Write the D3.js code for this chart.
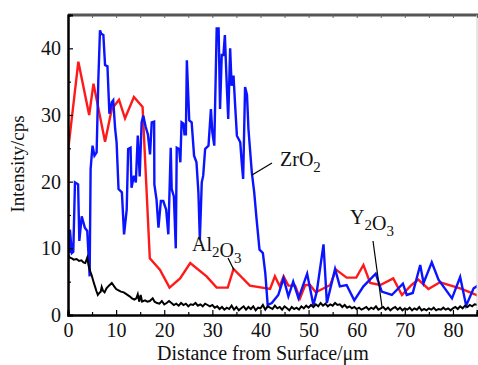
<!DOCTYPE html>
<html>
<head>
<meta charset="utf-8">
<script src="https://cdn.jsdelivr.net/npm/d3@7"></script>
<style>
  html, body { margin: 0; padding: 0; background: #fff; }
  svg { display: block; }
  text { font-family: "Liberation Serif", "DejaVu Serif", serif; fill: #111; }
</style>
</head>
<body>
<div id="chart"></div>
<script>
// ─── Data ──────────────────────────────────────────────────

// ZrO2 (blue) — [distance µm, cps]
const zro2 = [
  [0.3, 9.3], [0.4, 12.8], [0.8, 9.3], [1.1, 9.5], [1.45, 19.9], [2.1, 19.6], [2.35, 11.1], [2.85, 14.8],
  [3.5, 13.1], [4.0, 12.6], [4.5, 5.8], [4.7, 21.9], [5.1, 25.4], [5.5, 23.9], [5.95, 24.4], [6.3, 35.2],
  [6.65, 42.7], [6.9, 42.2], [7.35, 42.0], [7.7, 37.5], [8.2, 37.3], [8.6, 30.2], [9.1, 31.9], [9.4, 32.2],
  [9.8, 27.9], [10.1, 25.9], [10.5, 18.9], [11.2, 18.4], [11.65, 12.1], [12.2, 15.8], [12.5, 24.9],
  [13.0, 25.1], [13.2, 19.1], [13.7, 20.9], [14.1, 19.9], [14.5, 26.9], [14.9, 20.8], [15.3, 28.9],
  [15.65, 29.9], [16.15, 28.2], [16.6, 27.1], [17.05, 24.1], [17.4, 28.9], [17.9, 29.0], [17.95, 19.6],
  [18.4, 17.3], [18.8, 13.1], [19.3, 17.1], [19.8, 17.1], [20.4, 15.8], [20.85, 12.1], [21.35, 25.1],
  [21.55, 18.9], [22.0, 17.8], [22.4, 10.0], [22.6, 25.1], [23.1, 24.9], [23.35, 22.9], [23.6, 28.9],
  [24.0, 28.7], [24.2, 27.1], [24.5, 27.1], [24.7, 38.2], [25.2, 29.2], [25.7, 28.9], [26.2, 23.9],
  [26.7, 22.9], [27.1, 18.4], [27.4, 11.3], [27.8, 19.9], [28.1, 20.9], [28.5, 24.9], [29.2, 25.4],
  [29.7, 30.9], [30.0, 27.4], [30.4, 25.4], [30.9, 43.0], [31.3, 43.0], [31.6, 30.9], [31.95, 39.0],
  [32.3, 39.0], [32.6, 42.0], [33.0, 34.4], [33.3, 29.4], [33.7, 40.0], [34.0, 34.4], [34.4, 35.9],
  [34.7, 31.9], [35.1, 26.9], [35.8, 25.9], [36.1, 22.9], [36.4, 20.4], [36.8, 34.2], [37.2, 33.0],
  [37.5, 27.9], [38.2, 21.4], [38.7, 18.4], [39.2, 14.3], [39.8, 9.8], [40.5, 9.3], [41.0, 6.3],
  [41.5, 1.5], [42.35, 1.8], [43.7, 3.0], [44.8, 5.5], [45.8, 2.8], [46.8, 5.0], [47.9, 2.5],
  [49.7, 6.2], [51.0, 1.5], [51.7, 3.5], [53.1, 10.6], [53.8, 1.8], [55.5, 6.9], [56.5, 4.3],
  [57.9, 4.5], [59.5, 2.2], [61.4, 4.3], [63.95, 6.2], [65.2, 3.5], [67.3, 3.0], [69.6, 4.7],
  [70.4, 3.0], [71.65, 3.3], [73.2, 7.5], [73.9, 4.8], [75.6, 7.9], [77.0, 5.3], [79.8, 2.5],
  [81.5, 5.7], [82.75, 1.4], [84.3, 4.0], [85.2, 4.4]
];

// Al2O3 (red)
const al2o3 = [
  [0.0, 0.0], [0.05, 24.9], [2.15, 38.0], [4.4, 30.0], [5.3, 34.7], [7.7, 26.0], [9.1, 30.9],
  [10.6, 32.3], [11.85, 29.5], [13.7, 32.7], [15.5, 31.2], [17.0, 8.5], [19.1, 6.8], [21.1, 4.1],
  [23.3, 5.5], [25.4, 7.8], [28.8, 5.8], [30.9, 4.1], [33.2, 4.1], [34.4, 6.9], [37.8, 4.4],
  [42.0, 3.9], [43.0, 5.8], [44.0, 4.3], [44.8, 5.8], [45.8, 4.4], [47.2, 4.4], [48.2, 2.5],
  [49.3, 4.5], [50.3, 4.5], [51.5, 3.4], [54.5, 4.5], [55.7, 6.8], [57.9, 5.6], [59.9, 5.6],
  [61.4, 7.5], [62.8, 4.8], [64.9, 4.5], [67.6, 5.5], [69.4, 3.0], [71.4, 4.5], [72.8, 5.3],
  [74.9, 3.9], [77.3, 4.9], [81.5, 4.0], [83.2, 3.5], [85.2, 2.9]
];

// Y2O3 (black)
const y2o3 = [
  [0.0, 9.0], [0.4, 8.6], [0.8, 8.5], [1.2, 8.3], [1.8, 8.4], [2.3, 8.1], [2.8, 8.2], [3.2, 7.9],
  [3.6, 7.8], [4.0, 8.6], [4.3, 7.4], [4.6, 6.6], [4.9, 6.0], [5.3, 5.0], [5.6, 4.3], [5.9, 3.6],
  [6.2, 3.0], [6.5, 3.3], [6.8, 3.5], [7.0, 4.2], [7.3, 3.6], [7.6, 3.4], [8.0, 4.0], [8.5, 4.4],
  [9.1, 4.8], [9.6, 4.3], [10.0, 3.9], [10.5, 3.7], [11.0, 3.5], [11.6, 3.4], [12.2, 3.1], [12.8, 2.8],
  [13.3, 2.5], [13.8, 2.3], [14.2, 2.5], [14.5, 3.1], [14.8, 2.0], [15.1, 3.0], [15.4, 2.0], [16.0, 2.2],
  [16.5, 2.0], [17.0, 2.1], [17.6, 2.5], [18.0, 2.0], [18.5, 1.8], [19.0, 1.7], [19.5, 2.1], [20.0, 1.6],
  [20.5, 1.8], [21.0, 2.1], [21.5, 1.8], [22.0, 1.5], [22.5, 1.7], [23.0, 1.4], [23.5, 1.8], [24.0, 1.5],
  [24.5, 1.7], [25.0, 1.3], [25.5, 1.6], [26.0, 1.5], [26.5, 1.8], [27.0, 1.4], [27.5, 1.6], [28.0, 1.3],
  [28.5, 1.7], [29.0, 1.5], [29.5, 1.3], [30.0, 1.5], [30.5, 1.1], [31.0, 1.3], [31.5, 0.9], [32.0, 1.2],
  [32.5, 0.8], [33.0, 1.1], [33.5, 0.9], [34.0, 1.4], [34.5, 0.8], [35.0, 1.2], [35.5, 0.7], [36.0, 1.0],
  [36.5, 1.3], [37.0, 0.8], [37.5, 1.2], [38.0, 0.9], [38.5, 1.3], [39.0, 0.7], [39.5, 1.1], [40.0, 1.0],
  [40.5, 1.5], [41.0, 0.8], [41.5, 1.3], [42.0, 1.1], [42.5, 0.9], [43.0, 1.4], [43.5, 1.0], [44.0, 1.2],
  [44.5, 0.8], [45.0, 1.3], [45.5, 1.0], [46.0, 0.7], [46.5, 1.2], [47.0, 0.9], [47.5, 1.1], [48.0, 0.8],
  [48.5, 1.3], [49.0, 1.0], [49.5, 1.4], [50.0, 1.1], [50.5, 1.5], [51.0, 1.2], [51.5, 1.6], [52.0, 1.3],
  [52.5, 1.8], [53.0, 1.4], [53.5, 1.7], [54.0, 1.3], [54.5, 1.6], [55.0, 1.4], [55.5, 1.8], [56.0, 1.5],
  [56.5, 1.6], [57.0, 1.2], [57.5, 1.5], [58.0, 1.1], [58.5, 1.3], [59.0, 1.0], [59.5, 1.2], [60.0, 0.9],
  [60.5, 1.1], [61.0, 0.8], [61.5, 1.0], [62.0, 1.2], [62.5, 0.8], [63.0, 1.1], [63.5, 0.9], [64.0, 1.3],
  [64.5, 0.8], [65.0, 1.0], [65.5, 1.2], [66.0, 0.8], [66.5, 1.1], [67.0, 0.7], [67.5, 1.0], [68.0, 1.2],
  [68.5, 0.8], [69.0, 1.1], [69.5, 0.7], [70.0, 1.0], [70.5, 0.8], [71.0, 1.1], [71.5, 0.7], [72.0, 1.0],
  [72.5, 0.8], [73.0, 1.2], [73.5, 0.7], [74.0, 0.9], [74.5, 0.7], [75.0, 1.0], [75.5, 0.8], [76.0, 1.1],
  [76.5, 0.7], [77.0, 0.9], [77.5, 0.8], [78.0, 1.1], [78.5, 0.8], [79.0, 1.0], [79.5, 0.7], [80.0, 1.0],
  [80.5, 1.2], [81.0, 0.9], [81.5, 1.3], [82.0, 1.0], [82.5, 1.4], [83.0, 1.2], [83.5, 1.5], [84.0, 1.3],
  [84.5, 1.6], [85.2, 1.5]
];

const xTicks = [0, 10, 20, 30, 40, 50, 60, 70, 80];
const yTicks = [0, 10, 20, 30, 40];
const xMinor = [5, 15, 25, 35, 45, 55, 65, 75, 85];
const yMinor = [5, 15, 25, 35];

// ─── Layout ────────────────────────────────────────────────

const W = 478, H = 365;
const m = { left: 68, right: 477, top: 15, bottom: 315 };

const x = d3.scaleLinear().domain([0, 85]).range([m.left, m.right]);
const y = d3.scaleLinear().domain([0, 45]).range([m.bottom, m.top]);

const svg = d3.select("#chart").append("svg")
  .attr("width", W).attr("height", H);

svg.append("clipPath").attr("id", "clip")
  .append("rect").attr("x", m.left).attr("y", m.top - 2)
  .attr("width", m.right - m.left).attr("height", m.bottom - m.top + 2);

const line = d3.line().x(d => x(d[0])).y(d => y(d[1]));

const series = [
  { data: al2o3, color: "#ff1a1a", width: 2.4 },
  { data: zro2, color: "#0a14ff", width: 2.4 },
  { data: y2o3, color: "#000", width: 2 }
];

svg.append("g").attr("clip-path", "url(#clip)")
  .selectAll("path.series")
  .data(series)
  .enter().append("path")
  .attr("class", "series")
  .attr("d", d => line(d.data))
  .attr("fill", "none")
  .attr("stroke", d => d.color)
  .attr("stroke-width", d => d.width)
  .attr("stroke-linejoin", "miter");

// ─── Frame & axes ─────────────────────────────────────────

// top (grey, thick) and right (light) edges
svg.append("line").attr("x1", m.left).attr("x2", m.right + 1).attr("y1", m.top).attr("y2", m.top)
  .attr("stroke", "#555").attr("stroke-width", 3);
svg.append("line").attr("x1", m.right).attr("x2", m.right).attr("y1", m.top).attr("y2", m.bottom)
  .attr("stroke", "#ccc").attr("stroke-width", 1);

const xAxis = svg.append("g").attr("transform", `translate(0,${m.bottom})`)
  .call(d3.axisBottom(x).tickValues(xTicks).tickSize(-5).tickPadding(8).tickFormat(d3.format("d")));
const xAxisMinor = svg.append("g").attr("transform", `translate(0,${m.bottom})`)
  .call(d3.axisBottom(x).tickValues(xMinor).tickSize(-3).tickFormat(""));
const xTop = svg.append("g").attr("transform", `translate(0,${m.top})`)
  .call(d3.axisTop(x).tickValues(xTicks.concat(xMinor)).tickSize(-3).tickFormat(""));

const yAxis = svg.append("g").attr("transform", `translate(${m.left},0)`)
  .call(d3.axisLeft(y).tickValues(yTicks).tickSize(-5).tickPadding(7).tickFormat(d3.format("d")));
const yAxisMinor = svg.append("g").attr("transform", `translate(${m.left},0)`)
  .call(d3.axisLeft(y).tickValues(yMinor).tickSize(-3).tickFormat(""));

[xAxis, xAxisMinor, yAxis, yAxisMinor].forEach(g => {
  g.attr("font-family", null).attr("font-size", null);
  g.select(".domain").attr("stroke", "#000").attr("stroke-width", 2);
  g.selectAll(".tick line").attr("stroke", "#000").attr("stroke-width", 1.2);
  g.selectAll("text").style("font-family", "'Liberation Serif', serif").style("font-size", "20px").attr("fill", "#111");
});
xTop.select(".domain").remove();
xTop.selectAll(".tick line").attr("stroke", "#666");

// ─── Titles ───────────────────────────────────────────────

svg.append("text")
  .attr("x", 263).attr("y", 360)
  .attr("text-anchor", "middle")
  .attr("font-size", 20)
  .text("Distance from Surface/\u03bcm");

svg.append("text")
  .attr("transform", "translate(24,164) rotate(-90)")
  .attr("text-anchor", "middle")
  .attr("font-size", 19)
  .text("Intensity/cps");

// ─── Annotations ──────────────────────────────────────────

function chemLabel(px, py, parts) {
  const t = svg.append("text").attr("x", px).attr("y", py).attr("font-size", 20);
  parts.forEach(p => {
    if (p.sub) {
      t.append("tspan").attr("dy", 6).attr("font-size", 15).text(p.sub);
      t.append("tspan").attr("dy", -6).text("");
    } else {
      t.append("tspan").text(p.t);
    }
  });
}

chemLabel(280, 166, [{ t: "ZrO" }, { sub: "2" }]);
svg.append("line").attr("x1", 252).attr("y1", 175).attr("x2", 272).attr("y2", 163)
  .attr("stroke", "#000").attr("stroke-width", 1.2);

chemLabel(192, 251, [{ t: "Al" }, { sub: "2" }, { t: "O" }, { sub: "3" }]);
svg.append("line").attr("x1", 228).attr("y1", 258).attr("x2", 234).attr("y2", 270)
  .attr("stroke", "#000").attr("stroke-width", 1.2);

chemLabel(350, 224, [{ t: "Y" }, { sub: "2" }, { t: "O" }, { sub: "3" }]);
svg.append("line").attr("x1", 373).attr("y1", 241).attr("x2", 382).attr("y2", 307)
  .attr("stroke", "#000").attr("stroke-width", 1.2);
</script>
</body>
</html>
